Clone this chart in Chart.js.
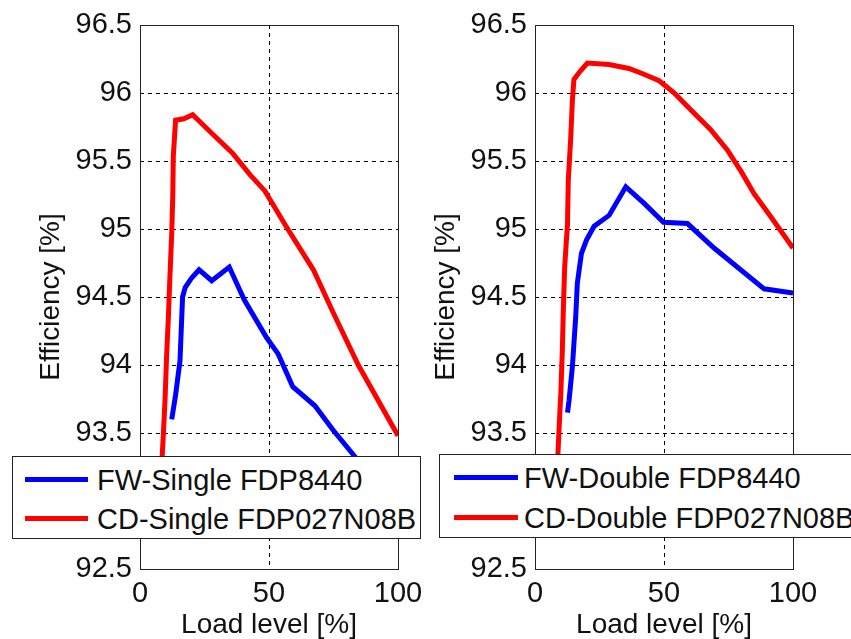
<!DOCTYPE html>
<html>
<head>
<meta charset="utf-8">
<script src="https://cdn.jsdelivr.net/npm/chart.js@4/dist/chart.umd.min.js"></script>
<style>
    body { margin: 0; background: #fff; }
    #wrap { position: relative; width: 851px; height: 639px; overflow: hidden; background: #fff; }
    .panel { position: absolute; top: 0; width: 425px; height: 639px; }
    .legend { position: absolute; box-sizing: border-box; border: 1px solid #222; background: #fff;
              font-family: 'Liberation Sans', Arial, sans-serif; font-size: 29px; color: #111; }
    .legend .swatch { position: absolute; height: 5px; }
    .legend .label { position: absolute; height: 34px; line-height: 34px; white-space: nowrap; }
</style>
</head>
<body>
<div id="wrap">
    <div class="panel" style="left:0"><canvas id="leftChart" width="425" height="639"></canvas></div>
    <div class="panel" style="left:395px"><canvas id="rightChart" width="425" height="639"></canvas></div>

    <div class="legend" style="left:12px; top:456px; width:409px; height:83px">
        <div class="swatch" style="left:12px; top:20px; width:63px; background:#0000ff"></div>
        <div class="label" style="left:84px; top:6px">FW-Single FDP8440</div>
        <div class="swatch" style="left:12px; top:59px; width:63px; background:#ff0000"></div>
        <div class="label" style="left:84px; top:45px">CD-Single FDP027N08B</div>
    </div>
    <div class="legend" style="left:439px; top:454px; width:450px; height:84px">
        <div class="swatch" style="left:14px; top:20px; width:64px; background:#0000ff"></div>
        <div class="label" style="left:84px; top:6px">FW-Double FDP8440</div>
        <div class="swatch" style="left:14px; top:60px; width:64px; background:#ff0000"></div>
        <div class="label" style="left:84px; top:46px">CD-Double FDP027N08B</div>
    </div>
</div>

<script>
// Efficiency vs load level

// left panel: single
const loadFwSingle = [12.3, 13.8, 15.5, 16.5, 17.5, 20, 22.9, 27.8, 34.6, 40.4, 49.1, 53.6, 59.2, 67.8, 74.9, 82.7, 100];
const effFwSingle  = [93.60, 93.78, 94.03, 94.50, 94.57, 94.64, 94.70, 94.62, 94.72, 94.48, 94.20, 94.08, 93.84, 93.70, 93.52, 93.34, 92.95];

const loadCdSingle = [8, 8.6, 9.0, 9.7, 10.3, 11.0, 11.6, 12.3, 12.7, 12.9, 13.3, 13.8, 17, 20.4, 28, 35.8, 42.6, 48.4, 56.6, 67.2, 75, 84.6, 100];
const effCdSingle  = [93.05, 93.33, 93.47, 93.74, 94.06, 94.35, 94.65, 94.97, 95.24, 95.53, 95.65, 95.80, 95.81, 95.84, 95.70, 95.56, 95.40, 95.28, 95.02, 94.70, 94.38, 94.00, 93.48];

// right panel: double
const loadFwDouble = [12.6, 13.2, 14.5, 15.8, 16.4, 18.0, 20, 22.9, 28.7, 35.2, 42.2, 49.8, 59.1, 69.4, 79.7, 88.8, 100];
const effFwDouble  = [93.65, 93.74, 93.99, 94.36, 94.60, 94.82, 94.92, 95.02, 95.10, 95.31, 95.19, 95.05, 95.04, 94.86, 94.70, 94.56, 94.53];

const loadCdDouble = [8.2, 8.9, 9.3, 10.0, 10.6, 11.0, 11.5, 12.6, 12.9, 13.8, 14.5, 15.1, 17.5, 20.3, 28.7, 36.4, 42, 48.1, 54, 59.1, 68.1, 74.6, 80, 84.9, 91.4, 100];
const effCdDouble  = [93.10, 93.35, 93.52, 93.79, 94.11, 94.42, 94.72, 95.04, 95.36, 95.65, 95.95, 96.10, 96.16, 96.22, 96.21, 96.18, 96.14, 96.09, 96.00, 95.90, 95.73, 95.58, 95.42, 95.26, 95.09, 94.86];

// axes
const xTicks = [0, 50, 100];
const yTicks = [92.5, 93, 93.5, 94, 94.5, 95, 95.5, 96, 96.5];
const xTitle = 'Load level [%]';
const yTitle = 'Efficiency [%]';

const FONT = "'Liberation Sans', Arial, sans-serif";
const TEXT = '#111';

function toPoints(xs, ys) {
    return xs.map((x, i) => ({ x: x, y: ys[i] }));
}

// box around the plot area, like matlab's "box on"
const boxPlugin = {
    id: 'box',
    afterDatasetsDraw(chart) {
        const a = chart.chartArea;
        const ctx = chart.ctx;
        ctx.save();
        ctx.strokeStyle = '#222';
        ctx.lineWidth = 1;
        ctx.strokeRect(Math.round(a.left) + 0.5, Math.round(a.top) + 0.5,
                       Math.round(a.right - a.left), Math.round(a.bottom - a.top));
        ctx.restore();
    }
};

function makeChart(id, fwX, fwY, cdX, cdY) {
    const ctx = document.getElementById(id);
    return new Chart(ctx, {
        type: 'line',
        data: {
            datasets: [
                { data: toPoints(fwX, fwY), borderColor: '#0000ff', borderWidth: 5, pointRadius: 0, tension: 0 },
                { data: toPoints(cdX, cdY), borderColor: '#ff0000', borderWidth: 5, pointRadius: 0, tension: 0 }
            ]
        },
        options: {
            responsive: false,
            animation: false,
            layout: { padding: { left: 30, right: 27, top: 25, bottom: 0 } },
            plugins: { legend: { display: false }, tooltip: { enabled: false } },
            scales: {
                x: {
                    type: 'linear',
                    min: 0,
                    max: 100,
                    afterBuildTicks: s => { s.ticks = xTicks.map(v => ({ value: v })); },
                    // fixed plot area, no extra room for label overflow
                    afterFit: s => { s.height = 70; s.paddingLeft = 0; s.paddingRight = 0; },
                    ticks: { color: TEXT, font: { family: FONT, size: 29 }, padding: 8, maxRotation: 0 },
                    grid: { color: '#000', lineWidth: 1, drawTicks: false },
                    border: { display: false, dash: [4, 4] },
                    title: { display: true, text: xTitle, color: TEXT,
                             font: { family: FONT, size: 28, lineHeight: 1 }, padding: { top: 0, bottom: 0 } }
                },
                y: {
                    min: 92.5,
                    max: 96.5,
                    afterBuildTicks: s => { s.ticks = yTicks.map(v => ({ value: v })); },
                    afterFit: s => { s.width = 110; s.paddingTop = 0; s.paddingBottom = 0; },
                    ticks: { color: TEXT, font: { family: FONT, size: 29 }, padding: 8, callback: v => String(v) },
                    grid: { color: '#000', lineWidth: 1, drawTicks: false },
                    border: { display: false, dash: [4, 4] },
                    title: { display: true, text: yTitle, color: TEXT,
                             font: { family: FONT, size: 28, lineHeight: 1 }, padding: { top: 7, bottom: 0 } }
                }
            }
        },
        plugins: [boxPlugin]
    });
}

makeChart('leftChart', loadFwSingle, effFwSingle, loadCdSingle, effCdSingle);
makeChart('rightChart', loadFwDouble, effFwDouble, loadCdDouble, effCdDouble);
</script>
</body>
</html>
